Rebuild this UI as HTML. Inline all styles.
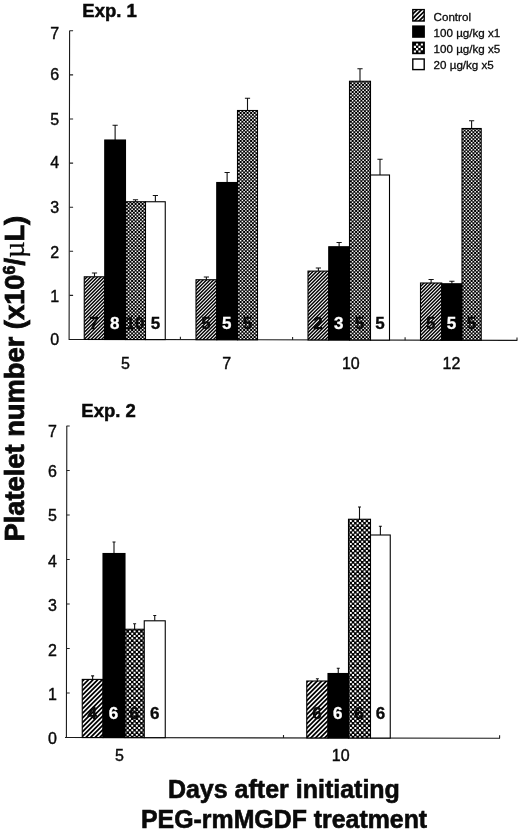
<!DOCTYPE html>
<html><head><meta charset="utf-8"><title>Platelet number</title>
<style>
html,body{margin:0;padding:0;background:#fff;}
svg{display:block;filter:grayscale(1);}
text{font-family:"Liberation Sans",sans-serif;fill:#0a0a0a;}
text.wn{fill:#fff;}
.t{font-size:16px;stroke:#0a0a0a;stroke-width:0.4px;}
.n{font-size:17px;font-weight:bold;stroke:#000;stroke-width:0.3px;}
text.wn{stroke:#fff;}
.e{font-size:18.5px;font-weight:bold;stroke:#0a0a0a;stroke-width:0.5px;}
.l{font-size:11.6px;stroke:#0a0a0a;stroke-width:0.3px;}
.xt{font-size:25px;font-weight:bold;stroke:#0a0a0a;stroke-width:0.6px;}
.yt{font-size:27.3px;font-weight:bold;stroke:#0a0a0a;stroke-width:0.8px;}
</style></head><body>
<svg width="520" height="830" viewBox="0 0 520 830">
<defs>
<pattern id="hatch" patternUnits="userSpaceOnUse" width="7" height="7">
<rect x="0" y="0" width="7" height="7" fill="#fff"/>
<path d="M-1 1L1 -1M-1 4.5L4.5 -1M-1 8L8 -1M2.5 8L8 2.5M6 8L8 6" stroke="#000" stroke-width="1.45" fill="none"/>
</pattern>
<pattern id="chk" patternUnits="userSpaceOnUse" width="7" height="7">
<rect x="0" y="0" width="7" height="7" fill="#000"/>
<path d="M0.125 0.125h1.5v1.5h-1.5zM3.625 0.125h1.5v1.5h-1.5zM1.875 1.875h1.5v1.5h-1.5zM5.375 1.875h1.5v1.5h-1.5zM0.125 3.625h1.5v1.5h-1.5zM3.625 3.625h1.5v1.5h-1.5zM1.875 5.375h1.5v1.5h-1.5zM5.375 5.375h1.5v1.5h-1.5z" fill="#fff"/>
</pattern>
<pattern id="hatch2" patternUnits="userSpaceOnUse" width="23" height="23">
<rect x="0" y="0" width="23" height="23" fill="#fff"/>
<path d="M-1 1.00L1.00 -1M-1 5.60L5.60 -1M-1 10.20L10.20 -1M-1 14.80L14.80 -1M-1 19.40L19.40 -1M-1 24.00L24.00 -1M-1 28.60L28.60 -1M-1 33.20L33.20 -1M-1 37.80L37.80 -1M-1 42.40L42.40 -1M-1 47.00L47.00 -1" stroke="#000" stroke-width="1.75" fill="none"/>
</pattern>
<pattern id="chk2" patternUnits="userSpaceOnUse" width="23" height="23">
<rect x="0" y="0" width="23" height="23" fill="#000"/>
<path d="M0.175 0.175h1.95v1.95h-1.95zM0.175 4.775h1.95v1.95h-1.95zM0.175 9.375h1.95v1.95h-1.95zM0.175 13.975h1.95v1.95h-1.95zM0.175 18.575h1.95v1.95h-1.95zM2.475 2.475h1.95v1.95h-1.95zM2.475 7.075h1.95v1.95h-1.95zM2.475 11.675h1.95v1.95h-1.95zM2.475 16.275h1.95v1.95h-1.95zM2.475 20.875h1.95v1.95h-1.95zM4.775 0.175h1.95v1.95h-1.95zM4.775 4.775h1.95v1.95h-1.95zM4.775 9.375h1.95v1.95h-1.95zM4.775 13.975h1.95v1.95h-1.95zM4.775 18.575h1.95v1.95h-1.95zM7.075 2.475h1.95v1.95h-1.95zM7.075 7.075h1.95v1.95h-1.95zM7.075 11.675h1.95v1.95h-1.95zM7.075 16.275h1.95v1.95h-1.95zM7.075 20.875h1.95v1.95h-1.95zM9.375 0.175h1.95v1.95h-1.95zM9.375 4.775h1.95v1.95h-1.95zM9.375 9.375h1.95v1.95h-1.95zM9.375 13.975h1.95v1.95h-1.95zM9.375 18.575h1.95v1.95h-1.95zM11.675 2.475h1.95v1.95h-1.95zM11.675 7.075h1.95v1.95h-1.95zM11.675 11.675h1.95v1.95h-1.95zM11.675 16.275h1.95v1.95h-1.95zM11.675 20.875h1.95v1.95h-1.95zM13.975 0.175h1.95v1.95h-1.95zM13.975 4.775h1.95v1.95h-1.95zM13.975 9.375h1.95v1.95h-1.95zM13.975 13.975h1.95v1.95h-1.95zM13.975 18.575h1.95v1.95h-1.95zM16.275 2.475h1.95v1.95h-1.95zM16.275 7.075h1.95v1.95h-1.95zM16.275 11.675h1.95v1.95h-1.95zM16.275 16.275h1.95v1.95h-1.95zM16.275 20.875h1.95v1.95h-1.95zM18.575 0.175h1.95v1.95h-1.95zM18.575 4.775h1.95v1.95h-1.95zM18.575 9.375h1.95v1.95h-1.95zM18.575 13.975h1.95v1.95h-1.95zM18.575 18.575h1.95v1.95h-1.95zM20.875 2.475h1.95v1.95h-1.95zM20.875 7.075h1.95v1.95h-1.95zM20.875 11.675h1.95v1.95h-1.95zM20.875 16.275h1.95v1.95h-1.95zM20.875 20.875h1.95v1.95h-1.95z" fill="#fff"/>
</pattern>
</defs>
<rect width="520" height="830" fill="#fff"/>

<!-- panel 1 -->
<text x="82.3" y="16.5" class="e">Exp. 1</text>
<path d="M69.6 30.80L69.1 339.4L517.3 340.4" stroke="#1a1a1a" stroke-width="1.1" fill="none" stroke-linejoin="miter"/>
<path d="M69.5 295.40h3.6M69.5 251.30h3.6M69.5 207.20h3.6M69.5 163.10h3.6M69.5 119.00h3.6M69.5 74.90h3.6M69.5 30.80h3.6M180.4 339.65v-3.0M292.6 339.90v-3.0M405.1 340.15v-3.0M517.0 340.40v-3.0" stroke="#222" stroke-width="1.1" fill="none"/>
<text x="54.6" y="39.00" text-anchor="middle" class="t">7</text>
<text x="54.6" y="79.50" text-anchor="middle" class="t">6</text>
<text x="54.6" y="124.80" text-anchor="middle" class="t">5</text>
<text x="54.6" y="168.20" text-anchor="middle" class="t">4</text>
<text x="54.6" y="213.40" text-anchor="middle" class="t">3</text>
<text x="54.6" y="258.00" text-anchor="middle" class="t">2</text>
<text x="54.6" y="302.00" text-anchor="middle" class="t">1</text>
<text x="54.6" y="344.60" text-anchor="middle" class="t">0</text>
<path d="M94.50 276.80V273.00M91.90 273.00H97.10" stroke="#111" stroke-width="1.1" fill="none"/>
<rect x="84.25" y="276.80" width="20.50" height="62.66" fill="url(#hatch)" stroke="#000" stroke-width="1.1"/>
<path d="M115.12 140.00V125.25M112.53 125.25H117.72" stroke="#111" stroke-width="1.1" fill="none"/>
<rect x="104.75" y="140.00" width="20.75" height="199.50" fill="#000" stroke="#000" stroke-width="1.1"/>
<path d="M135.50 201.75V199.75M132.90 199.75H138.10" stroke="#111" stroke-width="1.1" fill="none"/>
<rect x="125.50" y="201.75" width="20.00" height="137.80" fill="url(#chk)" stroke="#000" stroke-width="1.1"/>
<path d="M155.38 201.75V195.50M152.78 195.50H157.97" stroke="#111" stroke-width="1.1" fill="none"/>
<rect x="145.50" y="201.75" width="19.75" height="137.84" fill="#fff" stroke="#000" stroke-width="1.1"/>
<text x="94.00" y="328.70" text-anchor="middle" class="n">7</text>
<text x="114.62" y="328.70" text-anchor="middle" class="n wn">8</text>
<text x="135.00" y="328.70" text-anchor="middle" class="n">10</text>
<text x="155.38" y="328.70" text-anchor="middle" class="n">5</text>
<path d="M206.38 279.75V277.00M203.78 277.00H208.97" stroke="#111" stroke-width="1.1" fill="none"/>
<rect x="196.00" y="279.75" width="20.75" height="59.96" fill="url(#hatch)" stroke="#000" stroke-width="1.1"/>
<path d="M227.12 182.50V172.50M224.53 172.50H229.72" stroke="#111" stroke-width="1.1" fill="none"/>
<rect x="216.75" y="182.50" width="20.75" height="157.25" fill="#000" stroke="#000" stroke-width="1.1"/>
<path d="M247.50 110.50V98.25M244.90 98.25H250.10" stroke="#111" stroke-width="1.1" fill="none"/>
<rect x="237.50" y="110.50" width="20.00" height="229.30" fill="url(#chk)" stroke="#000" stroke-width="1.1"/>
<text x="205.88" y="328.70" text-anchor="middle" class="n">5</text>
<text x="226.62" y="328.70" text-anchor="middle" class="n wn">5</text>
<text x="247.50" y="328.70" text-anchor="middle" class="n">5</text>
<path d="M318.38 271.10V268.00M315.77 268.00H320.98" stroke="#111" stroke-width="1.1" fill="none"/>
<rect x="308.00" y="271.10" width="20.75" height="68.86" fill="url(#hatch)" stroke="#000" stroke-width="1.1"/>
<path d="M339.12 246.75V242.50M336.52 242.50H341.73" stroke="#111" stroke-width="1.1" fill="none"/>
<rect x="328.75" y="246.75" width="20.75" height="93.25" fill="#000" stroke="#000" stroke-width="1.1"/>
<path d="M360.00 81.25V68.75M357.40 68.75H362.60" stroke="#111" stroke-width="1.1" fill="none"/>
<rect x="349.50" y="81.25" width="21.00" height="258.80" fill="url(#chk)" stroke="#000" stroke-width="1.1"/>
<path d="M380.00 175.00V159.25M377.40 159.25H382.60" stroke="#111" stroke-width="1.1" fill="none"/>
<rect x="370.50" y="175.00" width="19.00" height="165.09" fill="#fff" stroke="#000" stroke-width="1.1"/>
<text x="317.88" y="328.70" text-anchor="middle" class="n">2</text>
<text x="338.62" y="328.70" text-anchor="middle" class="n wn">3</text>
<text x="359.50" y="328.70" text-anchor="middle" class="n">5</text>
<text x="380.00" y="328.70" text-anchor="middle" class="n">5</text>
<path d="M431.12 283.00V279.50M428.52 279.50H433.73" stroke="#111" stroke-width="1.1" fill="none"/>
<rect x="420.50" y="283.00" width="21.25" height="57.21" fill="url(#hatch)" stroke="#000" stroke-width="1.1"/>
<path d="M451.88 283.75V281.25M449.27 281.25H454.48" stroke="#111" stroke-width="1.1" fill="none"/>
<rect x="441.75" y="283.75" width="20.25" height="56.50" fill="#000" stroke="#000" stroke-width="1.1"/>
<path d="M471.60 128.50V120.75M469.00 120.75H474.20" stroke="#111" stroke-width="1.1" fill="none"/>
<rect x="462.00" y="128.50" width="19.20" height="211.80" fill="url(#chk)" stroke="#000" stroke-width="1.1"/>
<text x="430.62" y="328.70" text-anchor="middle" class="n">5</text>
<text x="451.38" y="328.70" text-anchor="middle" class="n wn">5</text>
<text x="471.60" y="328.70" text-anchor="middle" class="n">5</text>
<text x="125.5" y="369.2" text-anchor="middle" class="t">5</text>
<text x="226.8" y="369.2" text-anchor="middle" class="t">7</text>
<text x="350.8" y="369.2" text-anchor="middle" class="t">10</text>
<text x="451.5" y="369.2" text-anchor="middle" class="t">12</text>
<clipPath id="lc"><rect x="413.5" y="10.3" width="10" height="10"/></clipPath>
<rect x="412.1" y="8.9" width="12.8" height="12.8" fill="#000"/>
<path d="M419.60 5L399.60 25M424.00 5L404.00 25M428.40 5L408.40 25M432.80 5L412.80 25M437.20 5L417.20 25M441.60 5L421.60 25" stroke="#fff" stroke-width="1.4" clip-path="url(#lc)" fill="none"/>
<rect x="412.1" y="25.4" width="12.8" height="12.4" fill="#000"/>
<rect x="412.1" y="41.6" width="12.8" height="12.6" fill="#000"/>
<path d="M416.05 43.45h2.1v2.1h-2.1zM420.85 43.45h2.1v2.1h-2.1zM413.85 45.85h2.1v2.1h-2.1zM418.45 45.85h2.1v2.1h-2.1zM416.05 48.05h2.1v2.1h-2.1zM420.85 48.05h2.1v2.1h-2.1zM413.85 50.45h2.1v2.1h-2.1zM418.45 50.45h2.1v2.1h-2.1z" fill="#fff"/>
<rect x="412.8" y="59.0" width="11.4" height="10.6" fill="#fff" stroke="#000" stroke-width="1.4"/>
<text x="433.6" y="20.9" class="l">Control</text>
<text x="433.6" y="37.0" class="l">100 µg/kg x1</text>
<text x="433.6" y="53.1" class="l">100 µg/kg x5</text>
<text x="433.6" y="69.0" class="l">20 µg/kg x5</text>
<!-- panel 2 -->
<text x="81.3" y="417.3" class="e">Exp. 2</text>
<path d="M66.8 426.00L66.4 737.5M65 737.5L500 738.25" stroke="#1a1a1a" stroke-width="1.1" fill="none"/>
<path d="M66.5 693.00h3.2M66.5 648.50h3.2M66.5 604.00h3.2M66.5 559.50h3.2M66.5 515.00h3.2M66.5 470.50h3.2M66.5 426.00h3.2M283.5 737.88v-3.0M499.6 738.25v-3.0" stroke="#222" stroke-width="1.1" fill="none"/>
<text x="52.5" y="437.35" text-anchor="middle" class="t">7</text>
<text x="52.5" y="476.50" text-anchor="middle" class="t">6</text>
<text x="52.5" y="520.60" text-anchor="middle" class="t">5</text>
<text x="52.5" y="566.60" text-anchor="middle" class="t">4</text>
<text x="52.5" y="610.80" text-anchor="middle" class="t">3</text>
<text x="52.5" y="655.90" text-anchor="middle" class="t">2</text>
<text x="52.5" y="699.60" text-anchor="middle" class="t">1</text>
<text x="52.5" y="744.20" text-anchor="middle" class="t">0</text>
<path d="M92.62 679.40V675.90M91.12 675.90H94.12" stroke="#111" stroke-width="1.1" fill="none"/>
<rect x="82.25" y="679.40" width="20.75" height="58.15" fill="url(#hatch2)" stroke="#000" stroke-width="1.1"/>
<path d="M114.00 553.50V542.00M112.50 542.00H115.50" stroke="#111" stroke-width="1.1" fill="none"/>
<rect x="103.00" y="553.50" width="22.00" height="184.08" fill="#000" stroke="#000" stroke-width="1.1"/>
<path d="M134.62 629.25V623.75M133.12 623.75H136.12" stroke="#111" stroke-width="1.1" fill="none"/>
<rect x="125.00" y="629.25" width="19.25" height="108.37" fill="url(#chk2)" stroke="#000" stroke-width="1.1"/>
<path d="M154.75 620.80V615.50M153.25 615.50H156.25" stroke="#111" stroke-width="1.1" fill="none"/>
<rect x="144.25" y="620.80" width="21.00" height="116.85" fill="#fff" stroke="#000" stroke-width="1.1"/>
<text x="92.12" y="718.60" text-anchor="middle" class="n">4</text>
<text x="113.50" y="718.60" text-anchor="middle" class="n wn">6</text>
<text x="134.12" y="718.60" text-anchor="middle" class="n">6</text>
<text x="154.75" y="718.60" text-anchor="middle" class="n">6</text>
<path d="M317.38 681.00V678.75M315.88 678.75H318.88" stroke="#111" stroke-width="1.1" fill="none"/>
<rect x="306.75" y="681.00" width="21.25" height="56.93" fill="url(#hatch2)" stroke="#000" stroke-width="1.1"/>
<path d="M338.25 673.50V668.25M336.75 668.25H339.75" stroke="#111" stroke-width="1.1" fill="none"/>
<rect x="328.00" y="673.50" width="20.50" height="64.47" fill="#000" stroke="#000" stroke-width="1.1"/>
<path d="M359.50 519.25V507.00M358.00 507.00H361.00" stroke="#111" stroke-width="1.1" fill="none"/>
<rect x="348.50" y="519.25" width="22.00" height="218.76" fill="url(#chk2)" stroke="#000" stroke-width="1.1"/>
<path d="M380.38 535.00V526.25M378.88 526.25H381.88" stroke="#111" stroke-width="1.1" fill="none"/>
<rect x="370.50" y="535.00" width="19.75" height="203.04" fill="#fff" stroke="#000" stroke-width="1.1"/>
<text x="316.88" y="718.60" text-anchor="middle" class="n">6</text>
<text x="337.75" y="718.60" text-anchor="middle" class="n wn">6</text>
<text x="359.00" y="718.60" text-anchor="middle" class="n">6</text>
<text x="380.38" y="718.60" text-anchor="middle" class="n">6</text>
<text x="119.4" y="761.2" text-anchor="middle" class="t">5</text>
<text x="340.75" y="761.2" text-anchor="middle" class="t">10</text>
<text x="283.9" y="797.8" text-anchor="middle" class="xt">Days after initiating</text>
<text x="284.1" y="828" text-anchor="middle" class="xt" style="font-size:24.88px">PEG-rmMGDF treatment</text>
<text transform="translate(23.6 541.5) rotate(-90)" class="yt">Platelet number (x10<tspan font-size="16" dy="-9">6</tspan><tspan dy="9">/</tspan><tspan font-weight="normal" font-family="Liberation Serif,serif" font-size="28.5" stroke-width="0.3">µ</tspan><tspan dx="0">L)</tspan></text>
</svg></body></html>
